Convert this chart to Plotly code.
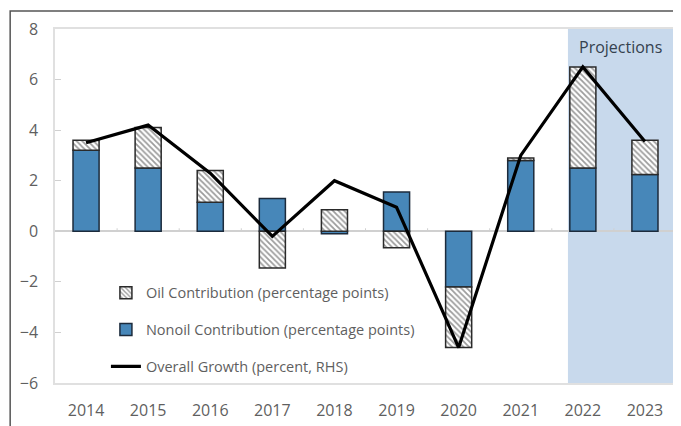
import plotly.graph_objects as go

years = ["2014", "2015", "2016", "2017", "2018", "2019", "2020", "2021", "2022", "2023"]
nonoil = [3.2, 2.5, 1.15, 1.3, -0.1, 1.55, -2.2, 2.8, 2.5, 2.25]
oil = [0.4, 1.6, 1.25, -1.45, 0.85, -0.65, -2.4, 0.1, 4.0, 1.35]
overall = [3.5, 4.2, 2.3, -0.2, 2.0, 0.95, -4.6, 3.0, 6.5, 3.55]
first_projection = "2022"

y_range = [-6, 8]

fig = go.Figure()

fig.add_trace(go.Bar(
    x=years, y=nonoil, name="Nonoil Contribution (percentage points)",
    marker=dict(color="#4787B9", line=dict(color="#1c2b3c", width=1.5)),
    legendgroup="b", legendrank=2, width=0.42,
))
fig.add_trace(go.Bar(
    x=years, y=oil, name="Oil Contribution (percentage points)",
    marker=dict(color="white", line=dict(color="#2a2a2a", width=1.5),
                pattern=dict(shape="\\", fgcolor="#3a3a3a", bgcolor="white", size=4, solidity=0.45)),
    legendgroup="a", legendrank=1, width=0.42,
))
fig.add_trace(go.Scatter(
    x=years, y=overall, name="Overall Growth (percent, RHS)", mode="lines",
    line=dict(color="black", width=3.2), legendgroup="c", legendrank=3,
))

pi = years.index(first_projection)
fig.add_shape(type="rect", xref="x", yref="paper", x0=pi - 0.24, x1=len(years) - 0.5,
              y0=0, y1=1, fillcolor="#c8d9ec", line_width=0, layer="below")

# tick marks at category boundaries on the zero line
for i in range(len(years) - 1):
    fig.add_shape(type="line", xref="x", yref="y", x0=i + 0.5, x1=i + 0.5, y0=0, y1=0.12,
                  line=dict(color="#d0d0d0", width=1))

fig.add_annotation(text="Projections", xref="x", yref="paper", x=pi + 0.6, y=0.985,
                   xanchor="center", yanchor="top", showarrow=False,
                   font=dict(size=16, color="#35414f", family="Open Sans"))

# outer frame
fig.add_shape(type="rect", xref="paper", yref="paper", x0=-0.0722, x1=1.2, y0=-0.3, y1=1.0508,
              line=dict(color="#555555", width=1.5), layer="below")

fig.update_layout(
    width=673, height=418,
    margin=dict(l=47, r=3, t=21, b=43),
    paper_bgcolor="white", plot_bgcolor="white",
    barmode="relative",
    font=dict(family="Open Sans", color="#5f5f5f"),
    showlegend=True,
    legend=dict(x=0.082, y=0.30, xanchor="left", yanchor="top", bgcolor="rgba(0,0,0,0)",
                traceorder="grouped", tracegroupgap=15,
                font=dict(size=14.5, color="#5f5f5f", family="Open Sans")),
    xaxis=dict(range=[-0.5, len(years) - 0.5], showgrid=False, showline=True, mirror=True,
               linecolor="#e0e0e0", linewidth=1.5, ticks="", ticklabelstandoff=12,
               tickfont=dict(size=16, color="#5f5f5f")),
    yaxis=dict(range=y_range, dtick=2, showgrid=False, zeroline=True, zerolinecolor="#d0d0d0",
               zerolinewidth=1.5, showline=True, mirror=True, linecolor="#e0e0e0", linewidth=1.5,
               ticks="inside", ticklen=6, tickcolor="#d0d0d0", ticklabelstandoff=12,
               tickfont=dict(size=16, color="#5f5f5f")),
)

fig.write_html("out.html")
